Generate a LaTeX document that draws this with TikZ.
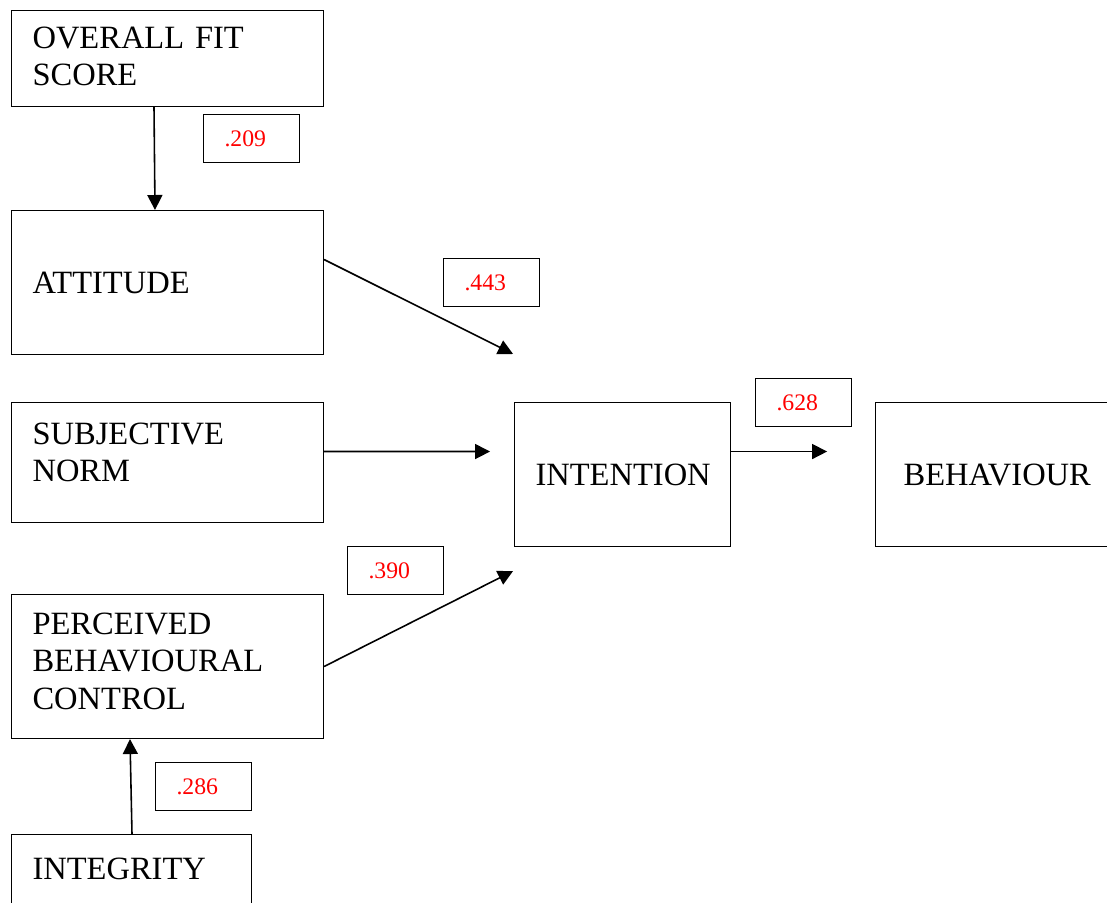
\documentclass[tikz,border=0pt]{standalone}
\usepackage{fontspec}
\setmainfont{Liberation Serif}
\usepackage{tikz}
\usetikzlibrary{arrows.meta,positioning,calc}
\tikzset{
  cons/.style={draw, line width=0.6pt, anchor=north west, align=left, inner xsep=0.42cm, font=\fontsize{18.5}{21.3}\selectfont},
  coef/.style={draw, line width=0.6pt, anchor=north west, align=left, inner xsep=0.42cm, text width=1.08cm, minimum height=0.96cm, text=red, font=\fontsize{13.5}{16}\selectfont},
  line/.style={-{Triangle[length=3mm, width=3mm]}, line width=0.9pt}
}

\begin{document}
\begin{tikzpicture}
        \useasboundingbox (0,0) rectangle (22.14,-18.04);
        % constructs
        \node[cons, text width=5.4cm, minimum height=1.92cm, text depth=0.85cm] (fit) at (0.22,-0.2) {OVERALL FIT\\SCORE};
        \node[cons, text width=5.4cm, minimum height=2.88cm] (att) at (0.22,-4.2) {ATTITUDE};
        \node[cons, text width=5.4cm, minimum height=2.4cm, text depth=1.17cm] (sn) at (0.22,-8.04) {SUBJECTIVE\\NORM};
        \node[cons, text width=5.4cm, minimum height=2.88cm, text depth=1.72cm] (pbc) at (0.22,-11.88) {PERCEIVED\\BEHAVIOURAL\\CONTROL};
        \node[cons, text width=3.96cm, minimum height=1.6cm, text depth=0.24cm] (integ) at (0.22,-16.68) {INTEGRITY};
        \node[cons, text width=3.48cm, minimum height=2.88cm, right=3.8cm of sn.north east, anchor=north west] (int) {INTENTION};
        \node[cons, text width=3.68cm, inner xsep=0.56cm, minimum height=2.88cm, right=2.88cm of int.north east, anchor=north west] (beh) {BEHAVIOUR};
        % path coefficients
        \node[coef] (c209) at (4.06,-2.28) {.209};
        \node[coef] (c443) at (8.86,-5.16) {.443};
        \node[coef] (c628) at (15.1,-7.56) {.628};
        \node[coef] (c390) at (6.94,-10.92) {.390};
        \node[coef] (c286) at (3.1,-15.24) {.286};
        % paths
        \draw[line] ([xshift=2.86cm]fit.south west) -- ([xshift=2.88cm]att.north west);
        \draw[line] ([yshift=0.46cm]att.east) -- ([xshift=-0.02cm,yshift=0.96cm]int.north west);
        \draw[line] ([yshift=0.22cm]sn.east) -- ([xshift=-0.48cm,yshift=0.46cm]int.west);
        \draw[line] (pbc.east) -- ([xshift=-0.02cm,yshift=-0.48cm]int.south west);
        \draw[line] ([yshift=0.46cm]int.east) -- ([xshift=-0.96cm,yshift=0.46cm]beh.west);
        \draw[line] ([xshift=2.42cm]integ.north west) -- ([xshift=2.38cm]pbc.south west);
\end{tikzpicture}
\end{document}
